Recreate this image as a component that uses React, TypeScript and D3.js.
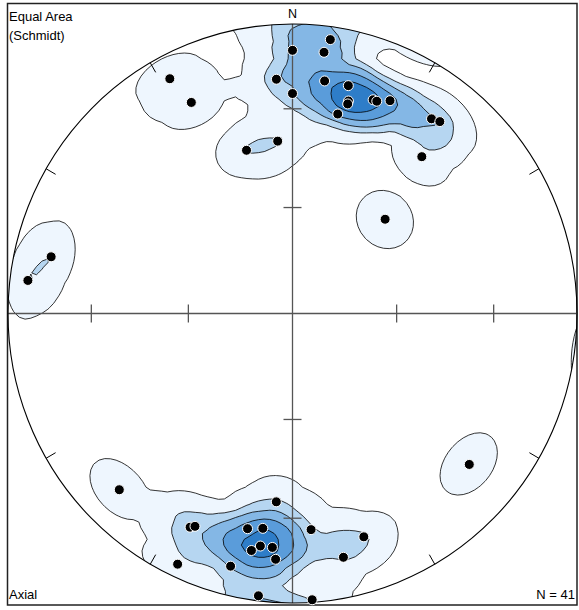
import React, { useMemo } from "react";
import * as d3 from "d3";

// Axial data: trend / plunge (degrees), lower hemisphere
const trends = [8, 0, 7, 356, 8, 0, 14, 15, 15, 21, 22, 25, 13, 36, 38, 40, 355, 344, 332, 334, 283, 277, 45, 130, 225, 185, 206, 205, 192, 188, 175, 162, 188, 190, 185, 184, 168, 194, 205, 187, 176];
const plunges = [5, 10, 10, 20, 20, 25, 20, 25, 26, 22, 22, 20, 30, 18, 17, 30, 40, 41, 9, 20, 14, 7, 52, 20, 15, 35, 19, 20, 25, 26, 26, 20, 20, 18, 20, 16, 15, 11, 5, 2, 1];

const levelThresholds = [0.4, 1.31, 2.0, 2.85, 3.85];
const levelColors = ["#eef6fe", "#b6d6f1", "#84b7e5", "#5a9cda", "#2e7dc8"];
const dipTicks = [30, 60];
const azimuthTicks = [30, 60, 120, 150, 210, 240, 300, 330];

const W = 579, H = 610;
const CX = 292.5, CY = 313.5, RX = 284.5, RY = 289.5;
const NET_PX = 287;
const KERNEL = 48 / NET_PX; // cone radius

const xScale = d3.scaleLinear().domain([-1, 1]).range([CX - RX, CX + RX]);
const yScale = d3.scaleLinear().domain([-1, 1]).range([CY + RY, CY - RY]);

const RAD = Math.PI / 180;
function project(trend: number, plunge: number): [number, number] {
  const r = Math.SQRT2 * Math.sin(((90 - plunge) / 2) * RAD);
  return [r * Math.sin(trend * RAD), r * Math.cos(trend * RAD)];
}
function toVec(trend: number, plunge: number): number[] {
  const t = trend * RAD, p = plunge * RAD;
  return [Math.cos(p) * Math.sin(t), Math.cos(p) * Math.cos(t), Math.sin(p)];
}
function unproject(u: number, v: number): number[] {
  const r = Math.min(Math.hypot(u, v), Math.SQRT2 - 1e-9);
  const th = 2 * Math.asin(r / Math.SQRT2);
  const a = Math.atan2(u, v);
  return [Math.sin(th) * Math.sin(a), Math.sin(th) * Math.cos(a), Math.cos(th)];
}
function weight(d: number): number {
  return d >= KERNEL ? 0 : 1 - d / KERNEL;
}

const GN = 121, GMIN = -1.2, GMAX = 1.2;

export default function App() {
  const contours = useMemo(() => {
    const vecs = trends.map((t, i) => toVec(t, plunges[i]));
    const gx = d3.scaleLinear().domain([0, GN - 1]).range([GMIN, GMAX]);
    const gy = d3.scaleLinear().domain([0, GN - 1]).range([GMAX, GMIN]);
    const values = new Float64Array(GN * GN);
    for (let j = 0; j < GN; j++) {
      for (let i = 0; i < GN; i++) {
        const n = unproject(gx(i), gy(j));
        let s = 0;
        for (const p of vecs) {
          const c = Math.abs(n[0] * p[0] + n[1] * p[1] + n[2] * p[2]);
          s += weight(Math.sqrt(Math.max(0, 1 - c)));
        }
        values[j * GN + i] = s;
      }
    }
    const cs = d3.contours().size([GN, GN]).thresholds(levelThresholds)(Array.from(values));
    const cgx = d3.scaleLinear().domain([0.5, GN - 0.5]).range([GMIN, GMAX]);
    const cgy = d3.scaleLinear().domain([0.5, GN - 0.5]).range([GMAX, GMIN]);
    const tr = d3.geoTransform({
      point(x: number, y: number) {
        (this as any).stream.point(xScale(cgx(x)), yScale(cgy(y)));
      },
    });
    const path = d3.geoPath(tr);
    return cs.map((c, i) => ({ d: path(c as any) || "", color: levelColors[i] }));
  }, []);

  const pts = trends.map((t, i) => project(t, plunges[i]));

  const axisTicks: { x1: number; y1: number; x2: number; y2: number }[] = [];
  dipTicks.forEach((dip) => {
    [0, 90, 180, 270].forEach((az) => {
      const [u, v] = project(az, dip);
      if (az === 0 || az === 180) {
        axisTicks.push({ x1: xScale(u) - 9, y1: yScale(v), x2: xScale(u) + 9, y2: yScale(v) });
      } else {
        axisTicks.push({ x1: xScale(u), y1: yScale(v) - 9, x2: xScale(u), y2: yScale(v) + 9 });
      }
    });
  });

  const rimTicks = azimuthTicks.map((az) => {
    const [u, v] = project(az, 0);
    const x = xScale(u), y = yScale(v);
    const dx = CX - x, dy = CY - y;
    const L = Math.hypot(dx, dy);
    return { x1: x, y1: y, x2: x + (dx / L) * 11, y2: y + (dy / L) * 11 };
  });

  const font = "Arial, 'Liberation Sans', sans-serif";

  return (
    <svg width={W} height={H} style={{ position: "absolute", left: 0, top: 0, background: "#fff" }}>
      <defs>
        <clipPath id="net">
          <ellipse cx={CX} cy={CY} rx={RX} ry={RY} />
        </clipPath>
      </defs>
      <rect x={7.5} y={3.5} width={569.5} height={601.5} fill="#fff" stroke="#222" strokeWidth={1.5} />
      <g clipPath="url(#net)">
        {contours.map((c, i) => (
          <path key={i} d={c.d} fill={c.color} stroke="#000" strokeWidth={0.8} strokeLinejoin="round" />
        ))}
      </g>
      <line x1={xScale(-1)} y1={CY} x2={xScale(1)} y2={CY} stroke="#555" strokeWidth={1.3} />
      <line x1={CX} y1={yScale(1)} x2={CX} y2={yScale(-1)} stroke="#555" strokeWidth={1.3} />
      {axisTicks.map((t, i) => (
        <line key={i} {...t} stroke="#555" strokeWidth={1.3} />
      ))}
      <ellipse cx={CX} cy={CY} rx={RX} ry={RY} fill="none" stroke="#000" strokeWidth={1.1} />
      {rimTicks.map((t, i) => (
        <line key={i} {...t} stroke="#000" strokeWidth={1} />
      ))}
      {pts.map(([u, v], i) => (
        <circle key={i} cx={xScale(u)} cy={yScale(v)} r={5} fill="#000" stroke="#fff" strokeWidth={1} />
      ))}
      <text x={CX} y={17.5} textAnchor="middle" fontFamily={font} fontSize={12.5}>N</text>
      <text x={9} y={21} fontFamily={font} fontSize={13}>Equal Area</text>
      <text x={9} y={39.5} fontFamily={font} fontSize={13}>(Schmidt)</text>
      <text x={9} y={599} fontFamily={font} fontSize={13}>Axial</text>
      <text x={575} y={599} textAnchor="end" fontFamily={font} fontSize={13}>N = 41</text>
    </svg>
  );
}
